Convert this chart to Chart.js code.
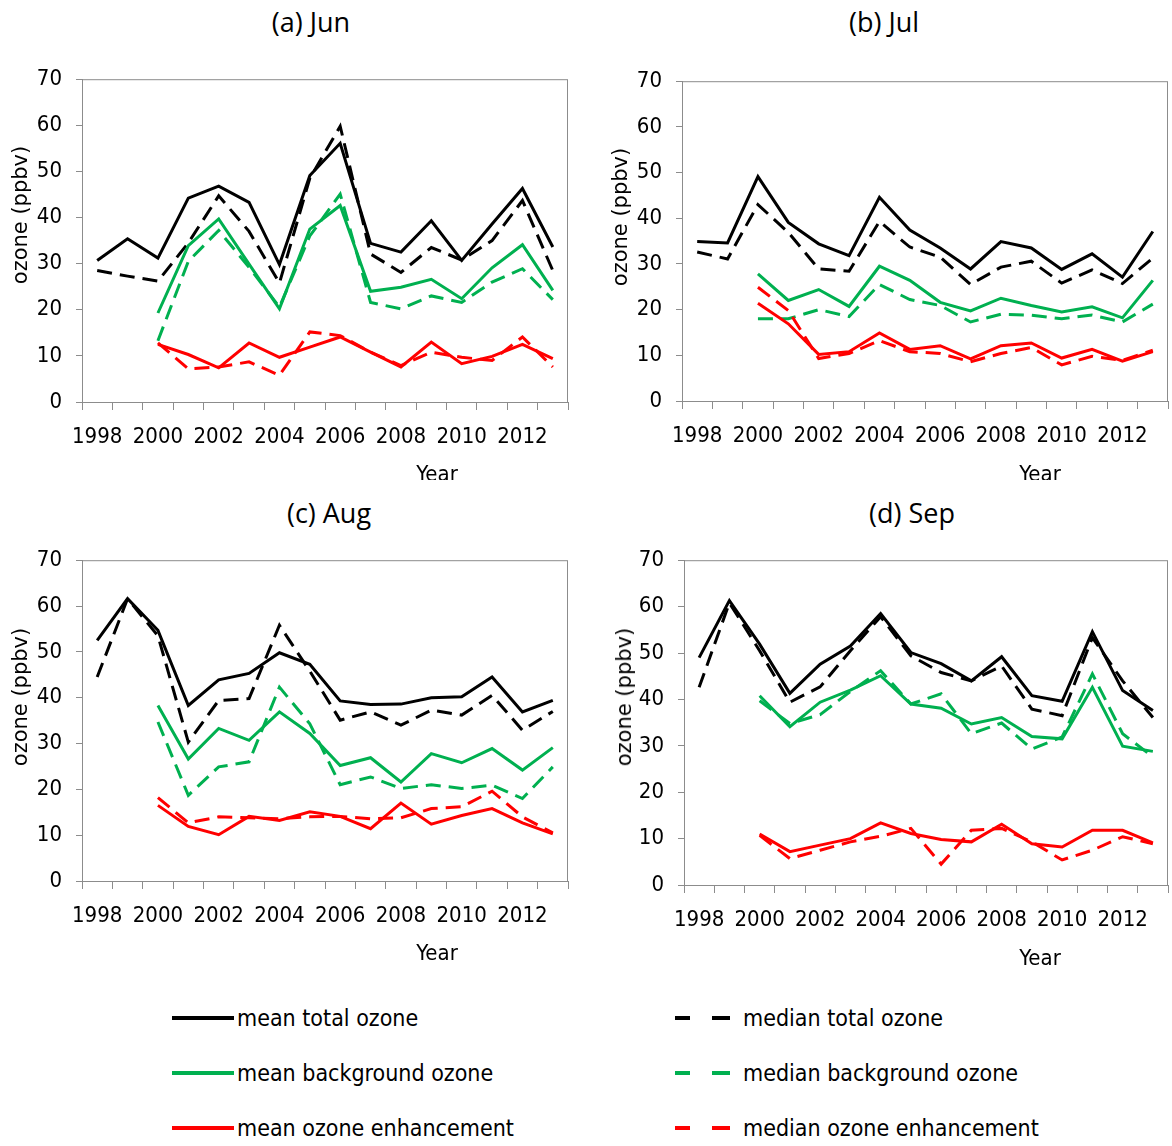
<!DOCTYPE html>
<html>
<head>
<meta charset="utf-8">
<script src="https://cdn.jsdelivr.net/npm/chart.js@4.4.1/dist/chart.umd.min.js"></script>
<style>
  body { margin: 0; background: #fff; }
  #page { position: relative; width: 1172px; height: 1146px; overflow: hidden; background: #fff;
          font-family: 'DejaVu Sans Condensed', sans-serif; color: #000; }
  .box { position: absolute; }
  .title { position: absolute; font-size: 27px; transform: translateX(-50%); white-space: nowrap;
           font-family: 'Open Sans', sans-serif; }
  .xlab { position: absolute; font-size: 22px; transform: translateX(-50%); white-space: nowrap; }
  .ylab { position: absolute; font-size: 21px; white-space: nowrap; font-family: 'DejaVu Sans', sans-serif;
          transform: translate(-50%, -50%) rotate(-90deg); }
  .clip { position: absolute; left: 0; top: 0; width: 1172px; height: 480px; overflow: hidden; }
  .leg { position: absolute; font-size: 23px; white-space: nowrap; line-height: 24px; }
  .solid, .dash { position: absolute; height: 4px; }
</style>
</head>
<body>
<div id="page">
  <div class="title" style="left:311px; top:3px;">(a) Jun</div>
  <div class="title" style="left:884px; top:3px;">(b) Jul</div>
  <div class="title" style="left:329px; top:494px;">(c) Aug</div>
  <div class="title" style="left:912px; top:494px;">(d) Sep</div>

  <div class="box" style="left:0; top:52px; width:586px; height:428px;"><canvas id="cJun"></canvas></div>
  <div class="box" style="left:586px; top:54px; width:586px; height:426px;"><canvas id="cJul"></canvas></div>
  <div class="box" style="left:0; top:533px; width:586px; height:427px;"><canvas id="cAug"></canvas></div>
  <div class="box" style="left:586px; top:533px; width:586px; height:427px;"><canvas id="cSep"></canvas></div>

  <div class="ylab" style="left:20px; top:215px;">ozone (ppbv)</div>
  <div class="ylab" style="left:620px; top:217px;">ozone (ppbv)</div>
  <div class="ylab" style="left:20px; top:697px;">ozone (ppbv)</div>
  <div class="ylab" style="left:624px; top:697px;">ozone (ppbv)</div>

  <div class="clip">
    <div class="xlab" style="left:437px; top:461px;">Year</div>
    <div class="xlab" style="left:1040px; top:461px;">Year</div>
  </div>
  <div class="xlab" style="left:437px; top:940px;">Year</div>
  <div class="xlab" style="left:1040px; top:945px;">Year</div>

  <div id="legend"></div>
</div>

<script>
// years on the x axis, every other one gets a label
const years = ['1998', '1999', '2000', '2001', '2002', '2003', '2004', '2005',
               '2006', '2007', '2008', '2009', '2010', '2011', '2012', '2013'];
const yTicks = [0, 10, 20, 30, 40, 50, 60, 70];

const seriesNames = ['mean total ozone', 'median total ozone',
                     'mean background ozone', 'median background ozone',
                     'mean ozone enhancement', 'median ozone enhancement'];

// (a) Jun
const junMeanTotal   = [30.7, 35.4, 31.2, 44.2, 46.8, 43.3, 29.8, 49.1, 56.1, 34.4, 32.5, 39.3, 30.7, 38.6, 46.3, 33.6];
const junMedianTotal = [28.5, 27.3, 26.2, 34.5, 44.7, 37.0, 25.8, 48.5, 59.8, 32.1, 28.1, 33.5, 30.8, 35.0, 43.7, 28.5];
const junMeanBg      = [null, null, 19.3, 33.9, 39.7, 29.9, 20.2, 37.5, 42.6, 24.0, 24.9, 26.6, 22.4, 29.1, 34.1, 24.2];
const junMedianBg    = [null, null, 13.3, 30.5, 37.2, 29.2, 20.6, 36.0, 45.1, 21.6, 20.2, 23.0, 21.6, 26.0, 28.9, 22.2];
const junMeanEnh     = [null, null, 12.5, 10.3, 7.4, 12.8, 9.7, 11.9, 14.1, 10.8, 7.6, 13.0, 8.3, 9.9, 12.5, 9.4];
const junMedianEnh   = [null, null, 12.8, 7.2, 7.6, 8.7, 5.8, 15.2, 14.4, 10.8, 7.9, 10.8, 9.7, 9.0, 14.1, 7.6];

// (b) Jul
const julMeanTotal   = [34.9, 34.6, 49.1, 39.1, 34.4, 31.8, 44.6, 37.4, 33.5, 28.9, 34.9, 33.5, 28.8, 32.2, 27.1, 37.1];
const julMedianTotal = [32.6, 31.1, 43.0, 36.9, 28.9, 28.4, 39.3, 33.7, 31.5, 25.5, 29.3, 30.6, 25.8, 28.7, 25.7, 31.3];
const julMeanBg      = [null, null, 27.8, 22.0, 24.4, 20.7, 29.5, 26.4, 21.6, 19.7, 22.5, 20.9, 19.5, 20.6, 18.2, 26.4];
const julMedianBg    = [null, null, 18.0, 18.0, 20.0, 18.5, 25.5, 22.2, 20.9, 17.3, 19.0, 18.8, 18.0, 18.8, 17.3, 21.2];
const julMeanEnh     = [null, null, 21.4, 16.9, 10.2, 10.8, 14.9, 11.3, 12.1, 9.2, 12.1, 12.7, 9.4, 11.3, 8.7, 10.8];
const julMedianEnh   = [null, null, 24.9, 19.8, 9.3, 10.4, 13.2, 10.8, 10.4, 8.6, 10.4, 11.7, 7.9, 9.8, 8.9, 11.1];

// (c) Aug
const augMeanTotal   = [52.5, 61.6, 54.7, 38.3, 43.9, 45.3, 49.8, 47.3, 39.3, 38.5, 38.6, 40.0, 40.2, 44.5, 36.9, 39.4];
const augMedianTotal = [44.5, 61.6, 53.5, 30.3, 39.4, 39.8, 55.8, 45.8, 35.1, 36.9, 34.0, 37.3, 36.2, 40.5, 32.9, 37.0];
const augMeanBg      = [null, null, 38.3, 26.6, 33.3, 30.7, 36.9, 32.2, 25.2, 26.9, 21.6, 27.8, 25.8, 28.9, 24.2, 29.1];
const augMedianBg    = [null, null, 34.7, 18.7, 24.9, 26.0, 42.3, 34.3, 21.0, 22.7, 20.2, 21.0, 20.2, 20.9, 18.0, 24.9];
const augMeanEnh     = [null, null, 16.5, 11.9, 10.1, 14.1, 13.2, 15.1, 14.1, 11.4, 17.0, 12.4, 14.3, 15.8, 12.7, 10.3];
const augMedianEnh   = [null, null, 18.2, 12.7, 14.0, 13.8, 13.6, 14.0, 14.1, 13.6, 13.8, 15.8, 16.2, 19.6, 14.0, 10.5];

// (d) Sep
const sepMeanTotal   = [49.0, 61.3, 51.9, 41.3, 47.6, 51.5, 58.5, 50.1, 47.7, 44.0, 49.2, 40.8, 39.6, 54.6, 41.9, 37.6];
const sepMedianTotal = [42.6, 60.8, 50.5, 39.4, 42.7, 50.5, 57.8, 49.4, 45.8, 44.0, 47.2, 37.9, 36.5, 53.3, 44.0, 36.1];
const sepMeanBg      = [null, null, 40.8, 34.1, 39.4, 42.0, 45.1, 39.0, 38.1, 34.7, 36.1, 32.0, 31.5, 42.6, 29.9, 28.8];
const sepMedianBg    = [null, null, 39.7, 34.8, 36.7, 41.7, 46.2, 39.0, 41.2, 32.6, 34.9, 29.3, 31.9, 45.5, 32.6, 27.6];
const sepMeanEnh     = [null, null, 11.0, 7.2, 8.6, 10.0, 13.4, 11.1, 9.8, 9.3, 13.1, 8.9, 8.2, 11.8, 11.8, 9.1];
const sepMedianEnh   = [null, null, 10.7, 5.7, 7.5, 9.3, 10.5, 12.2, 4.5, 11.8, 12.2, 9.3, 5.4, 7.5, 10.4, 8.9];

const colors = ['#000000', '#000000', '#00b050', '#00b050', '#ff0000', '#ff0000'];
const DASH = [15, 8];
const AXIS_GREY = '#8c8c8c';
const tickFont = { family: "'DejaVu Sans Condensed', sans-serif", size: 22 };

// grey box round the plot area (top + right sides as well)
const frame = {
  id: 'frame',
  afterDraw(chart) {
    const a = chart.chartArea, ctx = chart.ctx;
    ctx.save();
    ctx.strokeStyle = AXIS_GREY;
    ctx.lineWidth = 1;
    ctx.strokeRect(a.left + 0.5, a.top + 0.5, a.right - a.left - 1, a.bottom - a.top);
    ctx.restore();
  }
};

function makeChart(id, series, lay) {
  const datasets = series.map((d, i) => ({
    label: seriesNames[i],
    data: d,
    borderColor: colors[i],
    borderWidth: 3,
    borderDash: i % 2 ? DASH : [],
    pointRadius: 0,
    tension: 0,
    fill: false
  }));
  // draw medians under the means
  datasets.reverse();

  new Chart(document.getElementById(id), {
    type: 'line',
    data: { labels: years, datasets: datasets },
    options: {
      responsive: true,
      maintainAspectRatio: false,
      animation: false,
      layout: { padding: { top: 0, right: lay.right, left: 0, bottom: 0 } },
      plugins: { legend: { display: false }, tooltip: { enabled: false } },
      scales: {
        x: {
          offset: true,
          grid: { offset: true, drawOnChartArea: false, color: AXIS_GREY, tickLength: 8 },
          border: { color: AXIS_GREY },
          ticks: {
            autoSkip: false, maxRotation: 0, padding: 14, color: '#000', font: tickFont,
            callback: (v, i) => (i % 2 === 0 ? years[i] : '')
          },
          afterFit: s => { s.height = lay.xh; }
        },
        y: {
          min: 0, max: 70,
          afterBuildTicks: s => { s.ticks = yTicks.map(v => ({ value: v })); },
          grid: { drawOnChartArea: false, color: AXIS_GREY, tickLength: 6 },
          border: { color: AXIS_GREY },
          ticks: { padding: 14, color: '#000', font: tickFont },
          afterFit: s => { s.width = lay.yw; }
        }
      }
    },
    plugins: [frame]
  });
}

makeChart('cJun', [junMeanTotal, junMedianTotal, junMeanBg, junMedianBg, junMeanEnh, junMedianEnh],
          { right: 18, xh: 78, yw: 82 });
makeChart('cJul', [julMeanTotal, julMedianTotal, julMeanBg, julMedianBg, julMeanEnh, julMedianEnh],
          { right: 4, xh: 79, yw: 96 });
makeChart('cAug', [augMeanTotal, augMedianTotal, augMeanBg, augMedianBg, augMeanEnh, augMedianEnh],
          { right: 18, xh: 79, yw: 82 });
makeChart('cSep', [sepMeanTotal, sepMedianTotal, sepMeanBg, sepMedianBg, sepMeanEnh, sepMedianEnh],
          { right: 4, xh: 75, yw: 98 });

// shared legend, 3 rows x 2 columns
const legend = document.getElementById('legend');
const rowsY = [1018, 1073, 1128];
seriesNames.forEach((name, i) => {
  const row = Math.floor(i / 2), col = i % 2;
  const y = rowsY[row];
  let html = '';
  if (col === 0) {
    html += `<div class="solid" style="left:172px; top:${y - 2}px; width:62px; background:${colors[i]};"></div>`;
    html += `<div class="leg" style="left:237px; top:${y - 12}px;">${name}</div>`;
  } else {
    html += `<div class="dash" style="left:675px; top:${y - 2}px; width:15px; background:${colors[i]};"></div>`;
    html += `<div class="dash" style="left:712px; top:${y - 2}px; width:18px; background:${colors[i]};"></div>`;
    html += `<div class="leg" style="left:743px; top:${y - 12}px;">${name}</div>`;
  }
  legend.innerHTML += html;
});
</script>
</body>
</html>
